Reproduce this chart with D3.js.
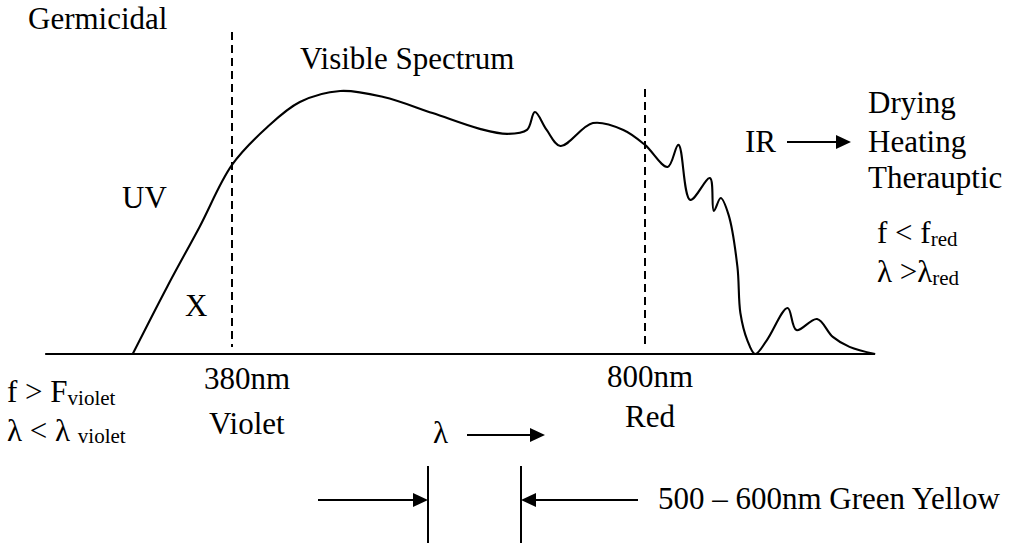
<!DOCTYPE html>
<html>
<head>
<meta charset="utf-8">
<script src="https://cdn.jsdelivr.net/npm/d3@7"></script>
<style>
  html, body { margin: 0; padding: 0; background: #fff; }
  svg { display: block; }
  text { font-family: "Liberation Serif", "Times New Roman", serif; fill: #000; }
</style>
</head>
<body>
<svg id="chart" width="1016" height="546"></svg>
<script>
// ---- data ----
// wavelength (nm, schematic) and relative intensity of the spectrum curve
const wavelengths = [279, 314, 347, 380, 416, 449, 490, 534, 584, 632, 660, 680, 688, 700, 714, 747, 778, 800, 823, 834, 846, 866, 870, 877, 885, 894, 897, 904, 912, 924, 945, 954, 975, 991, 1008, 1034];
const intensity   = [0, 0.255, 0.483, 0.719, 0.863, 0.958, 1.0, 0.977, 0.916, 0.856, 0.837, 0.852, 0.920, 0.852, 0.791, 0.878, 0.852, 0.795, 0.711, 0.795, 0.586, 0.669, 0.544, 0.593, 0.529, 0.331, 0.156, 0.053, 0, 0.053, 0.175, 0.091, 0.133, 0.065, 0.027, 0];
const axisRange = [190, 1034];          // nm extent of the baseline
const boundaries = [380, 800];          // violet / red limits (dashed)
const boundaryTops = [1.224, 1.008];    // dashed line top (relative intensity)

const svg = d3.select("#chart");
const FS = 31, SUB = 21;

const x = d3.scaleLinear().domain([380, 800]).range([232, 645]);
const y = d3.scaleLinear().domain([0, 1]).range([354, 91]);

// baseline
svg.append("line")
  .attr("x1", x(axisRange[0])).attr("x2", x(axisRange[1]))
  .attr("y1", y(0)).attr("y2", y(0))
  .attr("stroke", "#000").attr("stroke-width", 2.2);

// dashed boundaries
svg.selectAll("line.bound").data(boundaries).enter().append("line")
  .attr("class", "bound")
  .attr("x1", d => x(d)).attr("x2", d => x(d))
  .attr("y1", (d, i) => y(boundaryTops[i])).attr("y2", y(0.027))
  .attr("stroke", "#000").attr("stroke-width", 2)
  .attr("stroke-dasharray", "8,5");

// spectrum curve
const pts = wavelengths.map((w, i) => [w, intensity[i]]);
const line = d3.line().x(d => x(d[0])).y(d => y(d[1])).curve(d3.curveCatmullRom.alpha(0.5));
svg.append("path").datum(pts)
  .attr("d", line)
  .attr("fill", "none").attr("stroke", "#000").attr("stroke-width", 2.1);

// helpers
function txt(px, py, s, size) {
  return svg.append("text").attr("x", px).attr("y", py).attr("font-size", size || FS).text(s);
}
function txtSub(px, py, main, sub, subDy) {
  const t = svg.append("text").attr("x", px).attr("y", py).attr("font-size", FS);
  t.append("tspan").text(main);
  t.append("tspan").attr("font-size", SUB).attr("dy", subDy).text(sub);
  return t;
}
function arrow(x1, y1, x2, y2) {
  const dir = Math.sign(x2 - x1);
  const L = 15, Hh = 7;
  svg.append("line").attr("x1", x1).attr("y1", y1).attr("x2", x2 - dir * L).attr("y2", y2)
    .attr("stroke", "#000").attr("stroke-width", 2);
  svg.append("path")
    .attr("d", `M${x2},${y2} L${x2 - dir * L},${y2 - Hh} L${x2 - dir * L},${y2 + Hh} Z`)
    .attr("fill", "#000");
}

// labels
txt(28, 29, "Germicidal");
txt(300, 69, "Visible Spectrum");
txt(122, 208, "UV");
txt(185, 316, "X");
txt(204, 389, "380nm");
txt(209, 434, "Violet");
txt(607, 387, "800nm");
txt(625, 427, "Red");
txtSub(7, 402, "f > F", "violet", 3);
txtSub(7, 441, "λ < λ ", "violet", 2);

txt(745, 152, "IR");
arrow(787, 142, 851, 142);
txt(868, 113, "Drying");
txt(868, 152, "Heating");
txt(868, 188, "Therauptic");
txtSub(877, 243, "f < f", "red", 3);
txtSub(877, 282, "λ >λ", "red", 3);

// bottom: wavelength direction and 500-600nm band
txt(433, 443, "λ");
arrow(467, 435, 545, 435);
svg.append("line").attr("x1", 428).attr("x2", 428).attr("y1", 466).attr("y2", 543).attr("stroke", "#000").attr("stroke-width", 2);
svg.append("line").attr("x1", 521).attr("x2", 521).attr("y1", 466).attr("y2", 543).attr("stroke", "#000").attr("stroke-width", 2);
arrow(318, 500, 428, 500);
arrow(638, 500, 521, 500);
txt(658, 509, "500 – 600nm Green Yellow");
</script>
</body>
</html>
